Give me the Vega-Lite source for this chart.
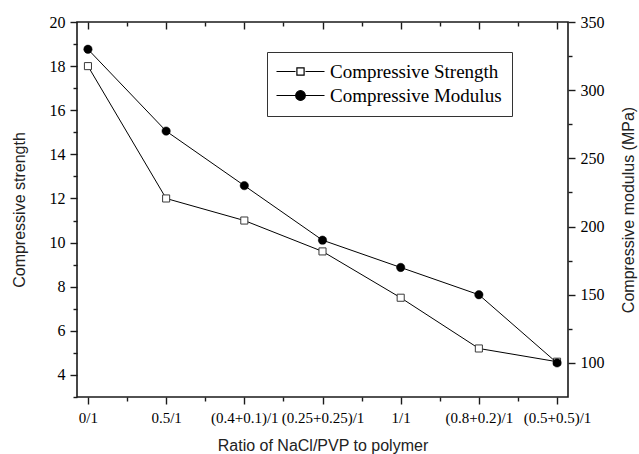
{
  "$schema": "https://vega.github.io/schema/vega-lite/v6.json",
  "width": 491,
  "height": 375,
  "autosize": {"type": "none"},
  "padding": {"left": 77, "top": 22, "right": 71, "bottom": 57},
  "background": "white",
  "config": {
    "view": {"stroke": "#1a1a1a", "strokeWidth": 1.6},
    "axis": {"grid": false, "domain": false, "tickColor": "#1a1a1a", "tickWidth": 1.4, "labelColor": "black", "titleColor": "#222", "titleFontWeight": "normal", "labelFont": "Liberation Serif", "titleFont": "Liberation Sans", "titleFontSize": 16}
  },
  "data": {
    "values": [
      {"ratio": "0/1", "order": 0, "strength": 18.0, "modulus": 330},
      {"ratio": "0.5/1", "order": 1, "strength": 12.0, "modulus": 270},
      {"ratio": "(0.4+0.1)/1", "order": 2, "strength": 11.0, "modulus": 230},
      {"ratio": "(0.25+0.25)/1", "order": 3, "strength": 9.6, "modulus": 190},
      {"ratio": "1/1", "order": 4, "strength": 7.5, "modulus": 170},
      {"ratio": "(0.8+0.2)/1", "order": 5, "strength": 5.2, "modulus": 150},
      {"ratio": "(0.5+0.5)/1", "order": 6, "strength": 4.6, "modulus": 100}
    ]
  },
  "layer": [
    {
      "mark": {"type": "line", "color": "black", "strokeWidth": 1},
      "encoding": {
        "x": {"field": "ratio", "type": "ordinal", "sort": null, "scale": {"type": "point", "padding": 0.14},
          "axis": {"orient": "bottom", "title": "Ratio of NaCl/PVP to polymer", "labelAngle": 0, "labelFont": "Liberation Serif", "labelFontSize": 15, "tickSize": 7, "labelPadding": 6, "titlePadding": 12, "labelOverlap": false, "labelBound": false, "labelFlush": false}},
        "y": {"field": "strength", "type": "quantitative", "scale": {"domain": [3, 20], "nice": false, "zero": false},
          "axis": {"orient": "left", "title": "Compressive strength", "values": [4, 6, 8, 10, 12, 14, 16, 18, 20], "labelFont": "Liberation Serif", "labelFontSize": 16, "tickSize": 7, "labelPadding": 5, "titlePadding": 22, "labelFlush": false}}
      }
    },
    {
      "mark": {"type": "point", "shape": "square", "filled": true, "stroke": "#3a3a3a", "strokeWidth": 1, "size": 50, "opacity": 1},
      "encoding": {
        "x": {"field": "order", "type": "quantitative", "scale": {"domain": [-0.14, 6.14], "nice": false, "zero": false},
          "axis": {"orient": "bottom", "title": null, "values": [0.5, 1.5, 2.5, 3.5, 4.5, 5.5], "labels": false, "tickSize": 4}},
        "y": {"field": "strength", "type": "quantitative", "scale": {"domain": [3, 20], "nice": false, "zero": false},
          "axis": {"orient": "left", "title": null, "values": [3, 5, 7, 9, 11, 13, 15, 17, 19], "labels": false, "tickSize": 4}},
        "fill": {"datum": "Compressive Strength", "type": "nominal",
          "scale": {"domain": ["Compressive Strength", "Compressive Modulus"], "range": ["white", "black"]},
          "legend": {"title": null, "orient": "none", "legendX": 190, "legendY": 30, "strokeColor": "#333", "fillColor": "white", "padding": 10, "symbolSize": 256, "symbolOffset": 14, "labelOffset": 20, "labelFont": "Liberation Serif", "labelFontSize": 19, "labelLimit": 400, "labelColor": "black", "rowPadding": 4, "symbolStrokeWidth": 1.2, "symbolStrokeColor": "black",
            "symbolType": {"expr": "datum.value === 'Compressive Strength' ? 'M-3,0H-0.62M0.62,0H3M-0.45,-0.45H0.45V0.45H-0.45Z' : 'M-3,0H-0.62M0.62,0H3M-0.6,0A0.6,0.6 0 1,0 0.6,0A0.6,0.6 0 1,0 -0.6,0Z'"}}}
      }
    },
    {
      "mark": {"type": "line", "color": "black", "strokeWidth": 1},
      "encoding": {
        "x": {"field": "order", "type": "quantitative", "scale": {"domain": [-0.14, 6.14], "nice": false, "zero": false},
          "axis": {"orient": "top", "title": null, "values": [0, 1, 2, 3, 4, 5, 6], "labels": false, "tickSize": 7, "offset": -7}},
        "y": {"field": "modulus", "type": "quantitative", "scale": {"domain": [75, 350], "nice": false, "zero": false},
          "axis": {"orient": "right", "title": "Compressive modulus (MPa)", "values": [100, 150, 200, 250, 300, 350], "labelFont": "Liberation Serif", "labelFontSize": 16, "tickSize": 7, "labelPadding": 5, "titlePadding": 16, "titleAngle": 270, "titleBaseline": "top", "labelFlush": false}}
      }
    },
    {
      "mark": {"type": "point", "shape": "circle", "filled": true, "stroke": "black", "strokeWidth": 0.5, "size": 70, "opacity": 1},
      "encoding": {
        "x": {"field": "order", "type": "quantitative", "scale": {"domain": [-0.14, 6.14], "nice": false, "zero": false},
          "axis": {"orient": "top", "title": null, "values": [0.5, 1.5, 2.5, 3.5, 4.5, 5.5], "labels": false, "tickSize": 4, "offset": -4}},
        "y": {"field": "modulus", "type": "quantitative", "scale": {"domain": [75, 350], "nice": false, "zero": false},
          "axis": {"orient": "right", "title": null, "values": [125, 175, 225, 275, 325], "labels": false, "tickSize": 4}},
        "fill": {"datum": "Compressive Modulus", "type": "nominal"}
      }
    }
  ],
  "resolve": {
    "scale": {"x": "independent", "y": "independent", "fill": "shared"},
    "axis": {"x": "independent", "y": "independent"}
  }
}
